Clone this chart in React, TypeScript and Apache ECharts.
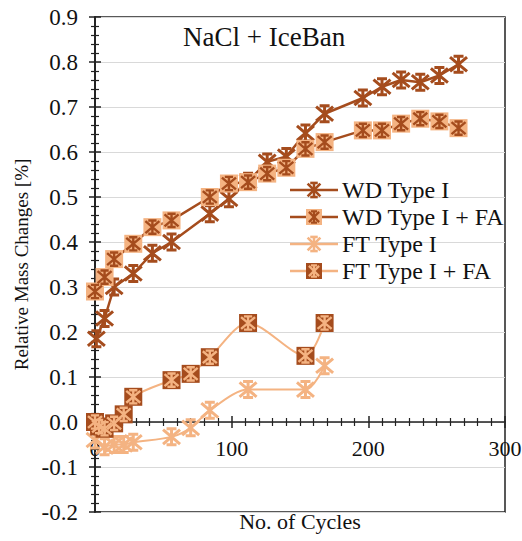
import React, { useEffect, useRef } from "react";
import * as echarts from "echarts";

// ---- data ----
const seriesNames = ["WD Type I", "WD Type I + FA", "FT Type I", "FT Type I + FA"];

const wdType1Cycles = [1, 7, 14, 28, 42, 56, 84, 98, 112, 126, 140, 154, 168, 196, 210, 224, 238, 252, 266];
const wdType1Values = [0.185, 0.23, 0.3, 0.33, 0.375, 0.4, 0.463, 0.496, 0.535, 0.578, 0.59, 0.642, 0.685, 0.72, 0.745, 0.76, 0.755, 0.77, 0.795];

const wdFaCycles = [0, 7, 14, 28, 42, 56, 84, 98, 112, 126, 140, 154, 168, 196, 210, 224, 238, 252, 266];
const wdFaValues = [0.29, 0.322, 0.362, 0.396, 0.433, 0.448, 0.5, 0.53, 0.533, 0.552, 0.565, 0.607, 0.622, 0.648, 0.648, 0.663, 0.674, 0.668, 0.653];

const ftType1Cycles = [0, 7, 14, 21, 28, 56, 70, 84, 112, 154, 168];
const ftType1Values = [-0.04, -0.055, -0.05, -0.05, -0.045, -0.033, -0.013, 0.026, 0.072, 0.072, 0.125];

const ftFaCycles = [0, 3, 7, 14, 21, 28, 56, 70, 84, 112, 154, 168];
const ftFaValues = [0.0, -0.01, -0.015, -0.003, 0.017, 0.056, 0.093, 0.107, 0.144, 0.22, 0.147, 0.22];

const yTicks = { min: -0.2, max: 0.9, interval: 0.1 };
const xTicks = { min: 0, max: 300, interval: 100 };

// ---- styles / layout ----
const DARK = "#A54C1D";
const LIGHT = "#F4B382";
const AXIS = "#222";
const FONT = "Liberation Serif";
const ASTERISK =
  "path://M10 0L10 20M1.5 1.5L18.5 18.5M18.5 1.5L1.5 18.5M5 0.6L15 0.6M5 19.4L15 19.4";

const W = 522;
const H = 541;
const G = { left: 95, right: 17, top: 17, bottom: 29 };
const plotH = H - G.top - G.bottom;
// pixel row of the value 0 (where the horizontal axis crosses)
const zeroY = G.top + ((yTicks.max - 0) / (yTicks.max - yTicks.min)) * plotH;

const pairs = (xs: number[], ys: number[]) => xs.map((x, i) => [x, ys[i]]);

function asteriskEls(cx: number, cy: number, s: number, color: string, lw: number) {
  const h = s / 2;
  const d = h * 0.85;
  const segs = [
    [0, -h, 0, h],
    [-d, -d, d, d],
    [d, -d, -d, d],
    [-h * 0.5, -h * 0.94, h * 0.5, -h * 0.94],
    [-h * 0.5, h * 0.94, h * 0.5, h * 0.94],
  ];
  return segs.map(([a, b, c, e]) => ({
    type: "line",
    z: 11,
    shape: { x1: cx + a, y1: cy + b, x2: cx + c, y2: cy + e },
    style: { stroke: color, lineWidth: lw },
  }));
}

export default function App() {
  const ref = useRef<HTMLDivElement>(null);

  useEffect(() => {
    if (!ref.current) return;
    const chart = echarts.init(ref.current, undefined, { renderer: "svg" });

    const legendRows = [
      { name: seriesNames[0], y: 190, line: DARK, square: null as string | null, star: DARK },
      { name: seriesNames[1], y: 217, line: DARK, square: LIGHT, star: DARK },
      { name: seriesNames[2], y: 244, line: LIGHT, square: null, star: LIGHT },
      { name: seriesNames[3], y: 271, line: LIGHT, square: DARK, star: LIGHT },
    ];
    const legendEls: any[] = [];
    legendRows.forEach((r) => {
      legendEls.push({
        type: "line",
        z: 10,
        shape: { x1: 290, y1: r.y, x2: 338, y2: r.y },
        style: { stroke: r.line, lineWidth: 2.5 },
      });
      if (r.square) {
        legendEls.push({
          type: "rect",
          z: 10,
          shape: { x: 314 - 8, y: r.y - 8, width: 16, height: 16 },
          style: { fill: r.square },
        });
        legendEls.push(...asteriskEls(314, r.y, 12, r.star, 2.2));
      } else {
        legendEls.push(...asteriskEls(314, r.y, 15, r.star, 2.6));
      }
      legendEls.push({
        type: "text",
        z: 10,
        x: 342,
        y: r.y,
        style: {
          text: r.name,
          fontFamily: FONT,
          fontSize: 24,
          fill: "#111",
          verticalAlign: "middle",
        },
      });
    });

    const baseX = {
      type: "value",
      min: xTicks.min,
      max: xTicks.max,
      interval: xTicks.interval,
      splitLine: { show: false },
    };
    const baseY = {
      type: "value",
      min: yTicks.min,
      max: yTicks.max,
      interval: yTicks.interval,
      position: "left",
      axisLine: { show: true, onZero: false, lineStyle: { color: AXIS, width: 1.5 } },
    };
    const tickStyle = { color: AXIS, width: 1.5 };
    const minorStyle = { color: AXIS, width: 1.2 };

    chart.setOption({
      animation: false,
      backgroundColor: "#fff",
      title: {
        text: "NaCl + IceBan",
        left: 183,
        top: 23,
        padding: 0,
        textStyle: { fontFamily: FONT, fontSize: 27, fontWeight: "normal", color: "#111" },
      },
      grid: [
        {
          ...G,
          outerBoundsMode: "none",
          containLabel: false,
          show: true,
          borderColor: AXIS,
          borderWidth: 1.5,
          backgroundColor: "transparent",
        },
        {
          left: G.left,
          right: G.right,
          top: G.top,
          bottom: H - zeroY,
          outerBoundsMode: "none",
          containLabel: false,
          show: false,
        },
      ],
      xAxis: [
        {
          ...baseX,
          gridIndex: 0,
          position: "bottom",
          axisLine: { show: false, onZero: false },
          axisTick: { show: false },
          axisLabel: { show: false },
        },
        {
          ...baseX,
          gridIndex: 1,
          position: "bottom",
          axisLine: { show: true, onZero: false, lineStyle: { color: AXIS, width: 1.5 } },
          name: "No. of Cycles",
          nameLocation: "middle",
          nameGap: 88,
          nameTextStyle: { fontFamily: FONT, fontSize: 22, color: "#111" },
          axisTick: { show: true, inside: false, length: 6, lineStyle: tickStyle },
          minorTick: { show: true, splitNumber: 10, length: 4, lineStyle: minorStyle },
          axisLabel: { fontFamily: FONT, fontSize: 22, color: "#111", margin: 15 },
        },
        {
          ...baseX,
          gridIndex: 1,
          position: "bottom",
          axisLine: { show: false, onZero: false },
          axisTick: { show: true, inside: true, length: 6, lineStyle: tickStyle },
          minorTick: { show: true, splitNumber: 10, length: 4, lineStyle: minorStyle },
          axisLabel: { show: false },
        },
      ],
      yAxis: [
        {
          ...baseY,
          gridIndex: 0,
          name: "Relative Mass Changes [%]",
          nameLocation: "middle",
          nameGap: 62,
          nameTextStyle: { fontFamily: FONT, fontSize: 19, color: "#111" },
          axisTick: { show: true, inside: false, length: 6, lineStyle: tickStyle },
          minorTick: { show: true, splitNumber: 5, length: 4, lineStyle: minorStyle },
          axisLabel: {
            fontFamily: FONT,
            fontSize: 23,
            color: "#111",
            margin: 17,
            formatter: (v: number) => v.toFixed(1),
          },
          splitLine: { show: true, lineStyle: { color: "#D9D9D9", width: 1 } },
        },
        {
          ...baseY,
          gridIndex: 0,
          axisTick: { show: true, inside: true, length: 6, lineStyle: tickStyle },
          minorTick: { show: true, splitNumber: 5, length: 4, lineStyle: minorStyle },
          axisLabel: { show: false },
          splitLine: { show: false },
        },
        {
          type: "value",
          gridIndex: 1,
          min: 0,
          max: 1,
          show: false,
        },
      ],
      series: [
        {
          name: seriesNames[0],
          type: "line",
          xAxisIndex: 0,
          yAxisIndex: 0,
          clip: false,
          data: pairs(wdType1Cycles, wdType1Values),
          symbol: ASTERISK,
          symbolSize: 17,
          itemStyle: { color: DARK, borderColor: DARK, borderWidth: 3 },
          lineStyle: { color: DARK, width: 2.5 },
        },
        {
          name: seriesNames[1],
          type: "line",
          xAxisIndex: 0,
          yAxisIndex: 0,
          clip: false,
          data: pairs(wdFaCycles, wdFaValues),
          symbol: "rect",
          symbolSize: 18,
          itemStyle: { color: LIGHT, borderWidth: 0 },
          lineStyle: { color: DARK, width: 2.5 },
        },
        {
          name: seriesNames[1] + " marker",
          type: "scatter",
          xAxisIndex: 0,
          yAxisIndex: 0,
          z: 4,
          clip: false,
          data: pairs(wdFaCycles, wdFaValues),
          symbol: ASTERISK,
          symbolSize: 14,
          itemStyle: { color: DARK, borderColor: DARK, borderWidth: 2.4, opacity: 1 },
        },
        {
          name: seriesNames[2],
          type: "line",
          xAxisIndex: 0,
          yAxisIndex: 0,
          z: 5,
          clip: false,
          smooth: 0.3,
          data: pairs(ftType1Cycles, ftType1Values),
          symbol: ASTERISK,
          symbolSize: 17,
          itemStyle: { color: LIGHT, borderColor: LIGHT, borderWidth: 3 },
          lineStyle: { color: LIGHT, width: 2 },
        },
        {
          name: seriesNames[3],
          type: "line",
          xAxisIndex: 0,
          yAxisIndex: 0,
          z: 5,
          clip: false,
          smooth: 0.3,
          data: pairs(ftFaCycles, ftFaValues),
          symbol: "rect",
          symbolSize: 18,
          itemStyle: { color: DARK, borderWidth: 0 },
          lineStyle: { color: LIGHT, width: 2 },
        },
        {
          name: seriesNames[3] + " marker",
          type: "scatter",
          xAxisIndex: 0,
          yAxisIndex: 0,
          z: 6,
          clip: false,
          data: pairs(ftFaCycles, ftFaValues),
          symbol: ASTERISK,
          symbolSize: 14,
          itemStyle: { color: LIGHT, borderColor: LIGHT, borderWidth: 2.4, opacity: 1 },
        },
      ],
      graphic: legendEls,
    });

    return () => chart.dispose();
  }, []);

  return (
    <div
      ref={ref}
      style={{ position: "fixed", left: 0, top: 0, width: W, height: H, background: "#fff" }}
    />
  );
}
